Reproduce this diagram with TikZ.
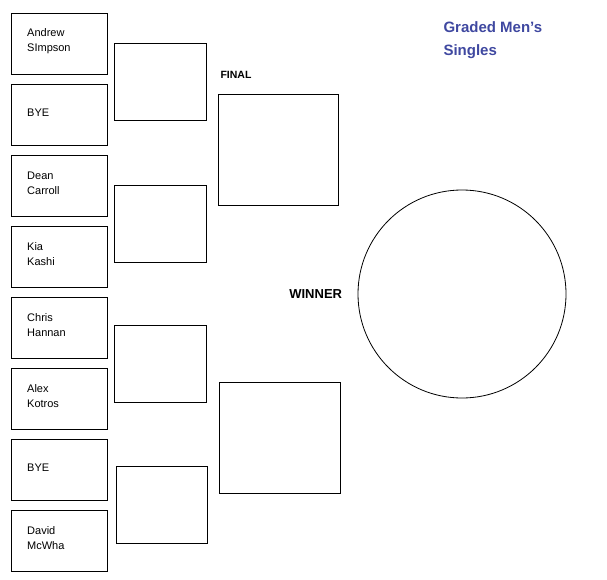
\documentclass[tikz,border=0pt]{standalone}
\usepackage{fontspec}
\setmainfont{Liberation Sans}
\usetikzlibrary{positioning}
\definecolor{titleblue}{RGB}{63,72,160}

\begin{document}
\begin{tikzpicture}[x=1pt, y=-1pt,
    entry/.style={draw, line width=0.8pt},
    player/.style={anchor=west, align=left, font=\fontsize{11}{15}\selectfont, inner sep=0pt},
    tag/.style={font=\bfseries\fontsize{10.5}{12}\selectfont}
]
    \useasboundingbox (0,0) rectangle (607,580);
    % first round
    \foreach \i/\txt in {0/{Andrew\\SImpson}, 1/{BYE}, 2/{Dean\\Carroll}, 3/{Kia\\Kashi},
                         4/{Chris\\Hannan}, 5/{Alex\\Kotros}, 6/{BYE}, 7/{David\\McWha}} {
        \draw[entry] (11,13+71*\i) rectangle (107,74+71*\i);
        \node[player] (p\i) at (27,41.5+71*\i) {\txt};
    }
    % second round
    \node[entry, minimum width=92pt, minimum height=77pt, anchor=north west] (q1) at (114,43) {};
    \node[entry, minimum width=92pt, minimum height=77pt, anchor=north west] (q2) at (114,185) {};
    \node[entry, minimum width=92pt, minimum height=77pt, anchor=north west] (q3) at (114,325) {};
    \node[entry, minimum width=91pt, minimum height=77pt, anchor=north west] (q4) at (116,466) {};
    % final
    \node[entry, minimum width=120pt, minimum height=111pt, anchor=north west] (f1) at (218,94) {};
    \node[entry, minimum width=121pt, minimum height=111pt, anchor=north west] (f2) at (219,382) {};
    \node[tag] (final) at (236,75) {FINAL};
    % winner
    \node[entry, circle, minimum size=208pt] (win) at (462,294) {};
    \node[font=\bfseries\fontsize{13}{15}\selectfont, left=12pt of win] (winner) {WINNER};
    \node[anchor=west, align=left, text=titleblue, font=\bfseries\fontsize{15}{23}\selectfont] (title) at (440,40) {Graded Men's\\Singles};
\end{tikzpicture}
\end{document}
